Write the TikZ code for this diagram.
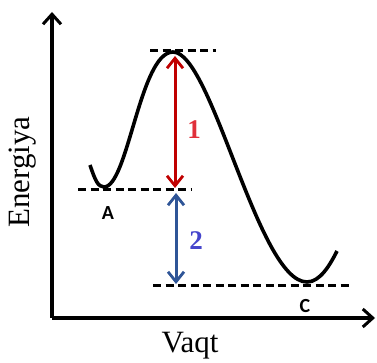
\documentclass[tikz,border=0pt]{standalone}
\usepackage{fontspec}
\setmainfont{Liberation Serif}
\newfontfamily\labfont{Carlito}
\usetikzlibrary{arrows.meta}
\definecolor{redarrow}{HTML}{C00000}
\definecolor{bluearrow}{HTML}{2F5597}
\definecolor{redlab}{HTML}{E0303A}
\definecolor{bluelab}{HTML}{4545CC}
\tikzset{
  axis/.style={line width=3.6pt, -{Straight Barb[length=10pt,width=18pt,line width=3pt]}},
  level/.style={line width=3pt, dash pattern=on 8pt off 4.5pt},
  curve/.style={line width=3.6pt},
  gap/.style={line width=3pt, {Straight Barb[length=10pt,width=16pt,line width=2.8pt]}-{Straight Barb[length=10pt,width=16pt,line width=2.8pt]}},
  ptlab/.style={font=\labfont\bfseries\fontsize{20}{20}\selectfont, inner sep=0pt},
  num/.style={font=\bfseries\fontsize{27}{27}\selectfont, inner sep=0pt}
}
\begin{document}
\begin{tikzpicture}[x=1pt,y=-1pt]
\useasboundingbox (0,0) rectangle (377,363);
\coordinate (O) at (52,318);
\coordinate (Ytip) at (52,12);
\coordinate (Xtip) at (375,318);
\draw[axis] (O) -- (Ytip);
\draw[axis] (O) -- (Xtip);
\node[rotate=90, font=\fontsize{31}{31}\selectfont, inner sep=0pt] (ylab) at (23,172) {Energiya};
\node[font=\fontsize{31}{31}\selectfont, inner sep=0pt] (xlab) at (190,346) {Vaqt};
% levels
\coordinate (T1) at (150,51); \coordinate (T2) at (216,51);
\coordinate (M1) at (78,190); \coordinate (M2) at (191,190);
\coordinate (B1) at (153,285); \coordinate (B2) at (350,285);
\draw[level] (T1) -- (T2);
\draw[level] (M1) -- (M2);
\draw[level] (B1) -- (B2);
% curve
\draw[curve] (90,165) .. controls (95,180) and (98,187) .. (104,187)
  .. controls (128,187) and (140,52) .. (173,52)
  .. controls (212,52) and (258,282) .. (307,282)
  .. controls (320,282) and (330,265) .. (337,251);
% arrows
\coordinate (r1) at (175,56); \coordinate (r2) at (175,188);
\coordinate (b1) at (176,193); \coordinate (b2) at (176,284);
\draw[gap, redarrow] (r1) -- (r2);
\draw[gap, bluearrow] (b1) -- (b2);
\node[num, text=redlab] (n1) at (194,130) {1};
\node[num, text=bluelab] (n2) at (196,241) {2};
\node[ptlab] (A) at (108,213) {A};
\node[ptlab] (C) at (305,306) {C};
\end{tikzpicture}
\end{document}
